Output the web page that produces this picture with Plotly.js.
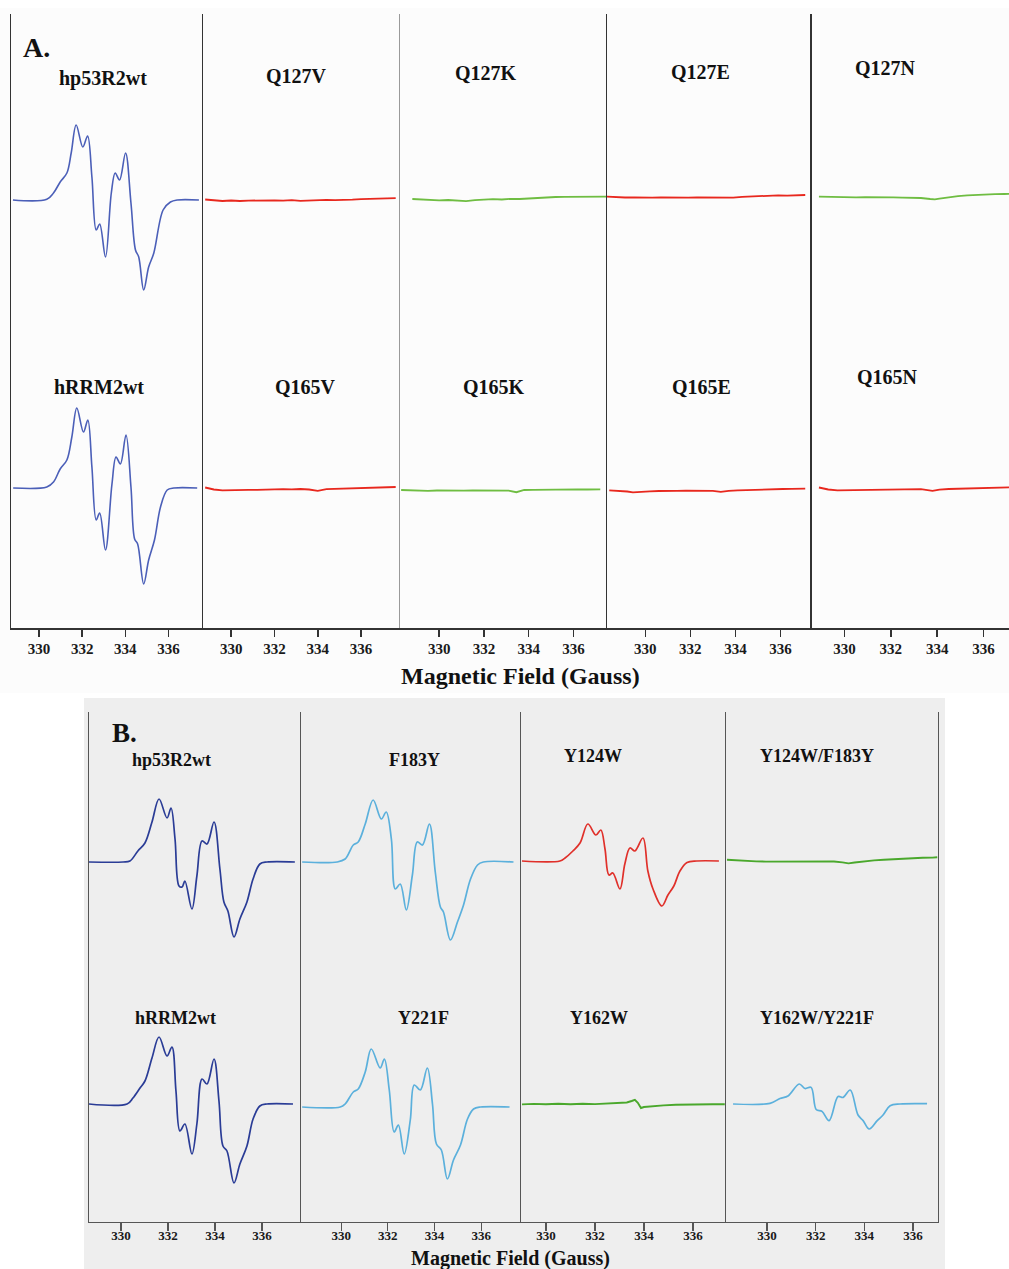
<!DOCTYPE html>
<html><head><meta charset="utf-8">
<script src="https://cdn.plot.ly/plotly-3.0.1.min.js"></script>
<style>
body{margin:0;background:#ffffff;width:1009px;height:1269px;position:relative;overflow:hidden}
#a{position:absolute;left:0;top:8px;width:1009px;height:685px}
#b{position:absolute;left:84px;top:698px;width:861px;height:571px}
</style></head><body>
<div id="a"></div><div id="b"></div>
<script>
// ---------- DATA (Magnetic field in Gauss, EPR intensity in arbitrary units) ----------
const ticksG = [330, 332, 334, 336];

// Panel A
const labelsA_top = ["hp53R2wt", "Q127V", "Q127K", "Q127E", "Q127N"];
const labelsA_bot = ["hRRM2wt", "Q165V", "Q165K", "Q165E", "Q165N"];

const A_hp53R2wt_x = [328.79,330.36,330.67,330.98,331.29,331.49,331.72,332.03,332.25,332.45,332.65,332.81,333.08,333.35,333.53,333.73,334.01,334.26,334.47,334.62,334.85,335.08,335.32,335.75,336.09,336.40,337.41];
const A_hp53R2wt_y = [0,0.7,7,18,27,47,75,53,64,23,-30,-24,-57,7,27,20,47,-3,-50,-57,-90,-67,-53,-10,-2,0,0];

const A_Q127V_x = [328.8,329.2,329.6,330.0,330.4,330.8,331.2,331.6,332.0,332.4,332.8,333.2,333.6,334.0,334.4,334.8,335.2,335.6,336.0,336.4,336.8,337.2,337.6];
const A_Q127V_y = [0.5,-0.5,-1,-0.5,-1,-0.6,-0.4,-0.9,-0.3,-0.7,-0.2,-0.8,-0.4,-0.6,0.1,-0.2,0.4,0.3,0.8,1.2,1.0,1.6,1.8];

const A_Q127K_x = [328.8,329.2,329.6,330.0,330.4,330.8,331.2,331.6,332.0,332.4,332.8,333.2,333.6,334.0,334.4,334.8,335.2,335.6,336.0,336.4,336.8,337.2,337.5];
const A_Q127K_y = [1,0.5,0,-0.4,0,-0.3,-1.2,-0.2,0.3,0.8,0.5,1.2,1.0,1.6,1.9,2.5,3.0,3.2,3.3,3.4,3.2,3.5,3.3];

const A_Q127E_x = [328.3,328.7,329.1,329.5,329.9,330.3,330.7,331.1,331.5,331.9,332.3,332.7,333.1,333.5,333.9,334.3,334.7,335.1,335.5,335.9,336.3,336.7,337.1];
const A_Q127E_y = [3.3,2.8,2.5,2.6,2.2,2.4,2.5,2.3,2.6,2.4,2.7,2.5,2.9,2.6,2.4,3.2,3.6,3.9,4.4,4.6,4.3,4.8,5.0];

const A_Q127N_x = [328.9,329.3,329.7,330.1,330.5,330.9,331.3,331.7,332.1,332.5,332.9,333.3,333.7,333.9,334.1,334.5,334.9,335.3,335.7,336.1,336.5,336.9,337.1];
const A_Q127N_y = [3.3,3.0,2.8,2.9,2.6,2.8,2.5,2.7,2.6,2.4,2.3,2.0,1.0,0.7,1.4,2.8,3.8,4.6,5.2,5.7,5.8,6.0,6.1];

const A_hRRM2wt_x = [328.80,330.36,330.67,330.98,331.29,331.52,331.75,332.06,332.26,332.45,332.65,332.81,333.08,333.38,333.57,333.77,334.03,334.26,334.43,334.57,334.85,335.08,335.35,335.63,335.94,336.25,337.33];
const A_hRRM2wt_y = [0,1,6,19,28,51,80,56,68,21,-32,-25,-62,4,31,24,53,1,-51,-56,-96,-72,-52,-19,-2,0,0];

const A_Q165V_x = [328.8,329.2,329.6,330.0,330.4,330.8,331.2,331.6,332.0,332.4,332.8,333.2,333.6,334.0,334.4,334.8,335.2,335.6,336.0,336.4,336.8,337.2,337.6];
const A_Q165V_y = [0.5,-1.5,-2.3,-2.0,-2.4,-1.8,-1.9,-1.5,-1.6,-1.2,-1.4,-1.0,-1.5,-2.8,-1.2,-0.9,-0.5,-0.3,0.2,0.4,0.6,0.9,1.0];

const A_Q165K_x = [328.3,328.7,329.1,329.5,329.9,330.3,330.7,331.1,331.5,331.9,332.3,332.7,333.1,333.45,333.8,334.2,334.6,335.0,335.4,335.8,336.2,336.6,337.2];
const A_Q165K_y = [-2.0,-2.4,-2.6,-2.8,-2.5,-2.7,-2.4,-2.6,-2.3,-2.5,-2.2,-2.4,-2.6,-4.2,-2.0,-1.9,-1.7,-1.8,-1.5,-1.6,-1.4,-1.5,-1.3];

const A_Q165E_x = [328.4,328.8,329.2,329.45,329.8,330.2,330.6,331.0,331.4,331.8,332.2,332.6,333.0,333.35,333.7,334.1,334.5,334.9,335.3,335.7,336.1,336.5,337.1];
const A_Q165E_y = [-2.3,-2.8,-3.5,-4.4,-3.6,-3.3,-3.0,-3.2,-2.8,-2.6,-2.5,-2.4,-2.9,-3.9,-2.8,-2.4,-2.0,-1.7,-1.4,-1.2,-1.0,-0.9,-0.7];

const A_Q165N_x = [328.9,329.3,329.7,330.1,330.5,330.9,331.3,331.7,332.1,332.5,332.9,333.3,333.8,334.1,334.5,334.9,335.3,335.7,336.1,336.5,336.9,337.1];
const A_Q165N_y = [0.5,-1.5,-2.3,-2.1,-1.9,-2.0,-1.6,-1.8,-1.5,-1.3,-1.4,-1.2,-2.8,-1.6,-1.0,-0.8,-0.5,-0.2,0.2,0.3,0.5,0.6];

// Panel B
const labelsB_top = ["hp53R2wt", "F183Y", "Y124W", "Y124W/F183Y"];
const labelsB_bot = ["hRRM2wt", "Y221F", "Y162W", "Y162W/Y221F"];

const B_hp53R2wt_x = [328.64,330.09,330.38,330.72,331.02,331.32,331.62,331.96,332.13,332.30,332.47,332.60,332.72,333.02,333.23,333.45,333.66,333.96,334.21,334.38,334.55,334.81,335.06,335.36,335.62,335.91,336.21,337.40];
const B_hp53R2wt_y = [0,0,1,11,19,40,63,44,54,23,-24,-25,-19,-47,-14,21,18,40,-7,-40,-49,-75,-57,-40,-17,-2,0,0];

const B_F183Y_x = [328.33,329.83,330.17,330.52,330.73,331.03,331.37,331.72,331.93,332.15,332.32,332.53,332.79,333.05,333.26,333.48,333.78,334.03,334.25,334.38,334.68,334.98,335.24,335.54,335.84,336.09,337.38];
const B_F183Y_y = [0,0,3,17,20,38,62,43,50,23,-27,-22,-48,-13,20,17,38,-10,-45,-50,-78,-60,-43,-17,-3,0,0];

const B_Y124W_x = [329.02,330.57,330.78,331.10,331.39,331.71,332.04,332.24,332.41,332.57,332.73,333.02,333.22,333.43,333.63,333.96,334.16,334.37,334.73,334.98,335.22,335.47,335.76,336.16,337.06];
const B_Y124W_y = [1,1,4,11,19,38,27,32,13,-13,-11,-27,-2,14,11,24,-9,-27,-44,-33,-24,-9,-0.5,1,1];

const B_Y124W_F183Y_x = [328.35,328.75,329.15,329.55,329.95,330.35,330.75,331.15,331.55,331.95,332.35,332.75,333.1,333.35,333.6,334.0,334.4,334.8,335.2,335.6,336.0,336.4,336.8,337.0];
const B_Y124W_F183Y_y = [2.3,1.5,0.9,0.6,0.4,0.5,0.7,0.3,0.6,0.9,0.8,0.5,-0.4,-1.4,-0.5,0.8,1.6,2.2,2.8,3.2,3.6,4.2,4.4,4.8];

const B_hRRM2wt_x = [328.64,330.26,330.51,330.81,331.02,331.32,331.62,331.96,332.17,332.34,332.51,332.72,333.02,333.23,333.45,333.66,333.96,334.17,334.34,334.51,334.81,335.06,335.36,335.62,335.91,336.21,337.32];
const B_hRRM2wt_y = [0,0,6,16,23,46,67,48,57,13,-27,-20,-50,-20,25,20,45,3,-42,-47,-79,-60,-42,-15,-2,0,0];

const B_Y221F_x = [328.33,329.96,330.17,330.52,330.73,331.03,331.29,331.67,331.85,332.06,332.27,332.45,332.70,332.96,333.13,333.39,333.69,333.91,334.08,334.29,334.55,334.81,335.11,335.41,335.67,335.97,337.21];
const B_Y221F_y = [-3,-3,0,12,15,32,55,36,45,14,-28,-21,-50,-16,19,14,36,0,-40,-46,-75,-56,-41,-15,-5,-3,-3];

const B_Y162W_x = [329.02,329.5,330.0,330.5,331.0,331.5,332.0,332.5,333.0,333.3,333.5,333.63,333.75,333.88,334.0,334.3,334.8,335.3,335.8,336.3,336.8,337.3];
const B_Y162W_y = [-0.4,0.1,-0.3,0.2,-0.2,0.3,-0.1,0.4,0.6,1.5,3,4.2,1.2,-4,-3,-2.2,-1.4,-0.8,-0.4,-0.3,-0.2,-0.3];

const B_Y162W_Y221F_x = [328.60,330.12,330.53,330.86,331.32,331.56,331.81,332.02,332.26,332.55,332.92,333.13,333.42,333.74,333.95,334.20,334.53,334.77,335.06,335.47,336.58];
const B_Y162W_Y221F_y = [0,0.7,5.5,8,20,15.5,16.6,-5.5,-7.4,-16.6,7.4,6.6,14,-11,-16.6,-25,-16.6,-11,-1.8,0,0.3];

// ---------- STYLE ----------
const SERIF = "Liberation Serif, Times New Roman, serif";
const cA = {blue:"#4b5fb8", red:"#e8281e", green:"#6fbd42"};
const cB = {navy:"#2a3c96", light:"#5bb0dc", red:"#e0302a", green:"#4aa82c"};

function ax(i){ return i===1 ? "" : String(i); }

// ---------- PANEL A ----------
(function(){
  const colDom = [[0,0.1924],[0.1924,0.3898],[0.3898,0.5972],[0.5972,0.8026],[0.8026,1]];
  const xr = [[328.7,337.6],[328.7,337.8],[328.25,337.5],[328.3,337.4],[328.6,337.1]];
  const lineCols = ["#333","#333","#9a9a9a","#333","#333"];
  const yTop = [-121,186], yBot = [-140,167];
  const top = [
    [A_hp53R2wt_x,A_hp53R2wt_y,cA.blue,true],
    [A_Q127V_x,A_Q127V_y,cA.red,false],
    [A_Q127K_x,A_Q127K_y,cA.green,false],
    [A_Q127E_x,A_Q127E_y,cA.red,false],
    [A_Q127N_x,A_Q127N_y,cA.green,false]];
  const bot = [
    [A_hRRM2wt_x,A_hRRM2wt_y,cA.blue,true],
    [A_Q165V_x,A_Q165V_y,cA.red,false],
    [A_Q165K_x,A_Q165K_y,cA.green,false],
    [A_Q165E_x,A_Q165E_y,cA.red,false],
    [A_Q165N_x,A_Q165N_y,cA.red,false]];
  const data=[], layout={
    width:1009,height:685,margin:{l:11,r:0,t:6,b:65},
    paper_bgcolor:"#fcfcfc",plot_bgcolor:"#fcfcfc",showlegend:false,annotations:[]};
  for(let c=0;c<5;c++){
    const xi=c+1, yt=c+1, yb=c+6;
    const mk=(d,yi)=>({x:d[0],y:d[1],type:"scatter",mode:"lines",xaxis:"x"+ax(xi),yaxis:"y"+ax(yi),
      line:{color:d[2],width:d[3]?1.6:1.8,shape:d[3]?"spline":"linear",smoothing:1},hoverinfo:"skip"});
    data.push(mk(top[c],yt)); data.push(mk(bot[c],yb));
    layout["xaxis"+ax(xi)]={domain:colDom[c],anchor:"y"+ax(yb),range:xr[c],showline:true,linecolor:"#333",linewidth:1.5,
      ticks:"outside",ticklen:7,tickwidth:1.5,tickcolor:"#333",tickvals:ticksG,showgrid:false,zeroline:false,
      ticklabelstandoff:-1,
      tickfont:{family:SERIF,size:15,weight:"bold",color:"#1a1a1a"},fixedrange:true};
    const yb_={domain:[0,0.5],anchor:"x"+ax(xi),range:yBot,showline:true,linecolor:lineCols[c],linewidth:1.5,
      showticklabels:false,ticks:"",showgrid:false,zeroline:false,fixedrange:true};
    const yt_=Object.assign({},yb_,{domain:[0.5,1],range:yTop});
    layout["yaxis"+ax(yt)]=yt_; layout["yaxis"+ax(yb)]=yb_;
  }
  const P=(x,y)=>({x:(x-11)/998,y:(628-y)/614});
  const lab=(t,x,y,s,anch)=>{const p=P(x,y);layout.annotations.push({text:"<b>"+t+"</b>",xref:"paper",yref:"paper",x:p.x,y:p.y,
    xanchor:anch||"center",yanchor:"middle",showarrow:false,font:{family:SERIF,size:s,color:"#111"}});};
  lab("A.",21,47,28,"left");
  const topPos=[[103,78],[296,76],[486,73],[700,72],[885,68]];
  const botPos=[[99,387],[305,387],[494,387],[701,387],[887,377]];
  labelsA_top.forEach((t,i)=>lab(t,topPos[i][0],topPos[i][1],20));
  labelsA_bot.forEach((t,i)=>lab(t,botPos[i][0],botPos[i][1],20));
  lab("Magnetic Field (Gauss)",520,676,24);
  Plotly.newPlot("a",data,layout,{staticPlot:true});
})();

// ---------- PANEL B ----------
(function(){
  const colDom = [[0,0.2497],[0.2497,0.5088],[0.5088,0.7503],[0.7503,1]];
  const xr = [[328.64,337.66],[328.28,337.7],[328.98,337.35],[328.31,337.03]];
  const yTop = [-105,150], yBot = [-118,137];
  const top = [
    [B_hp53R2wt_x,B_hp53R2wt_y,cB.navy,true],
    [B_F183Y_x,B_F183Y_y,cB.light,true],
    [B_Y124W_x,B_Y124W_y,cB.red,true],
    [B_Y124W_F183Y_x,B_Y124W_F183Y_y,cB.green,false]];
  const bot = [
    [B_hRRM2wt_x,B_hRRM2wt_y,cB.navy,true],
    [B_Y221F_x,B_Y221F_y,cB.light,true],
    [B_Y162W_x,B_Y162W_y,cB.green,false],
    [B_Y162W_Y221F_x,B_Y162W_Y221F_y,cB.light,true]];
  const data=[], layout={
    width:861,height:571,margin:{l:5,r:7,t:14,b:47},
    paper_bgcolor:"#eeeeee",plot_bgcolor:"#eeeeee",showlegend:false,annotations:[]};
  for(let c=0;c<4;c++){
    const xi=c+1, yt=c+1, yb=c+5;
    const mk=(d,yi)=>({x:d[0],y:d[1],type:"scatter",mode:"lines",xaxis:"x"+ax(xi),yaxis:"y"+ax(yi),
      line:{color:d[2],width:d[3]?1.7:1.9,shape:d[3]?"spline":"linear",smoothing:1},hoverinfo:"skip"});
    data.push(mk(top[c],yt)); data.push(mk(bot[c],yb));
    layout["xaxis"+ax(xi)]={domain:colDom[c],anchor:"y"+ax(yb),range:xr[c],showline:true,linecolor:"#555",linewidth:1.2,
      ticks:"outside",ticklen:8,tickwidth:1.2,tickcolor:"#555",tickvals:ticksG,showgrid:false,zeroline:false,
      ticklabelstandoff:-7,
      tickfont:{family:SERIF,size:13,weight:"bold",color:"#1a1a1a"},fixedrange:true};
    const yb_={domain:[0,0.5],anchor:"x"+ax(xi),range:yBot,showline:true,linecolor:"#555",linewidth:1.2,
      mirror:c===3,showticklabels:false,ticks:"",showgrid:false,zeroline:false,fixedrange:true};
    const yt_=Object.assign({},yb_,{domain:[0.5,1],range:yTop});
    layout["yaxis"+ax(yt)]=yt_; layout["yaxis"+ax(yb)]=yb_;
  }
  const P=(x,y)=>({x:(x-89)/849,y:(1222-y)/510});
  const lab=(t,x,y,s,anch)=>{const p=P(x,y);layout.annotations.push({text:"<b>"+t+"</b>",xref:"paper",yref:"paper",x:p.x,y:p.y,
    xanchor:anch||"center",yanchor:"middle",showarrow:false,font:{family:SERIF,size:s,color:"#111"}});};
  lab("B.",110,733,27,"left");
  const topPos=[[171,760],[414,760],[593,756],[817,756]];
  const botPos=[[175,1018],[423,1018],[599,1018],[817,1018]];
  labelsB_top.forEach((t,i)=>lab(t,topPos[i][0],topPos[i][1],18));
  labelsB_bot.forEach((t,i)=>lab(t,botPos[i][0],botPos[i][1],18));
  lab("Magnetic Field (Gauss)",510,1258,20);
  Plotly.newPlot("b",data,layout,{staticPlot:true});
})();
</script>
</body></html>
